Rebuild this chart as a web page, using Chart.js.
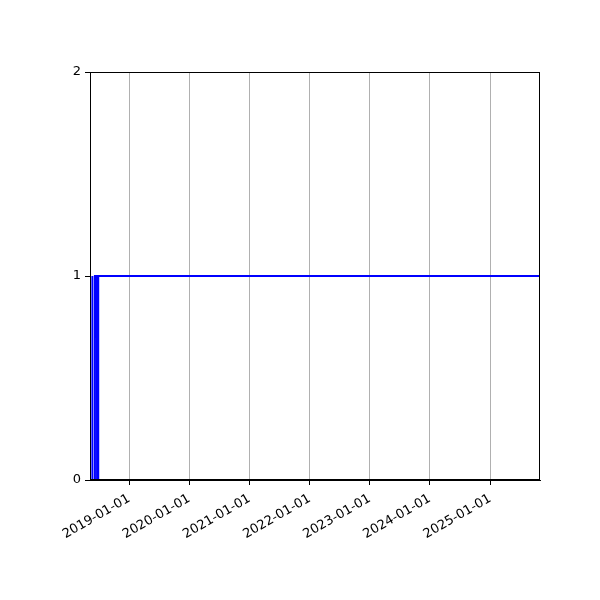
<!DOCTYPE html>
<html>
<head>
<meta charset="utf-8">
<script src="https://cdn.jsdelivr.net/npm/chart.js@4"></script>
<style>
  html, body { margin: 0; padding: 0; background: #fff; }
  #wrap { width: 600px; height: 600px; }
</style>
</head>
<body>
<div id="wrap"><canvas id="c" width="600" height="600"></canvas></div>
<script>
// series
const dates = ['2018-05-08', '2018-05-21', '2018-05-22', '2018-05-23', '2018-06-06', '2018-06-07',
               '2018-06-19', '2018-06-20', '2018-06-26', '2018-06-27', '2025-10-31'];
const values = [0, 0, 1, 0, 0, 1, 1, 0, 0, 1, 1];
const xTickLabels = ['2019-01-01', '2020-01-01', '2021-01-01', '2022-01-01', '2023-01-01', '2024-01-01', '2025-01-01'];
const yTicks = [0, 1, 2];

function toMs(s) { return Date.parse(s + 'T00:00:00Z'); }
function fmt(ms) { return new Date(ms).toISOString().slice(0, 10); }

const points = dates.map((d, i) => ({ x: toMs(d), y: values[i] }));
const xTickVals = xTickLabels.map(toMs);

// frame on all four sides, like the reference
const frame = {
  id: 'frame',
  afterDraw(chart) {
    const a = chart.chartArea, ctx = chart.ctx;
    ctx.save();
    ctx.strokeStyle = '#000';
    ctx.lineWidth = 1;
    ctx.strokeRect(a.left + 0.5, a.top + 0.5, a.right - a.left - 1, a.bottom - a.top - 1);
    ctx.restore();
  }
};

Chart.defaults.font.family = 'DejaVu Sans';
Chart.defaults.font.size = 13;
Chart.defaults.color = '#000';

new Chart(document.getElementById('c'), {
  type: 'line',
  data: {
    datasets: [{
      data: points,
      borderColor: '#0000ff',
      borderWidth: 2,
      pointRadius: 0,
      tension: 0,
      fill: false
    }]
  },
  options: {
    responsive: false,
    animation: false,
    layout: { padding: { top: 72, right: 60, left: 0, bottom: 0 } },
    plugins: { legend: { display: false }, tooltip: { enabled: false } },
    scales: {
      x: {
        type: 'linear',
        min: points[0].x,
        max: points[points.length - 1].x,
        afterBuildTicks: s => { s.ticks = xTickVals.map(v => ({ value: v })); },
        afterFit: s => { s.height = 120; },
        ticks: {
          callback: v => fmt(v),
          minRotation: 30,
          maxRotation: 30,
          autoSkip: false,
          padding: 6
        },
        grid: { color: '#b0b0b0', lineWidth: 1, tickColor: '#000', tickLength: 5 },
        border: { color: '#000' }
      },
      y: {
        min: 0,
        max: 2,
        afterBuildTicks: s => { s.ticks = yTicks.map(v => ({ value: v })); },
        afterFit: s => { s.width = 90; },
        ticks: { padding: 4 },
        grid: { color: 'rgba(0,0,0,0)', tickColor: '#000', tickLength: 5 },
        border: { color: '#000' }
      }
    }
  },
  plugins: [frame]
});
</script>
</body>
</html>
